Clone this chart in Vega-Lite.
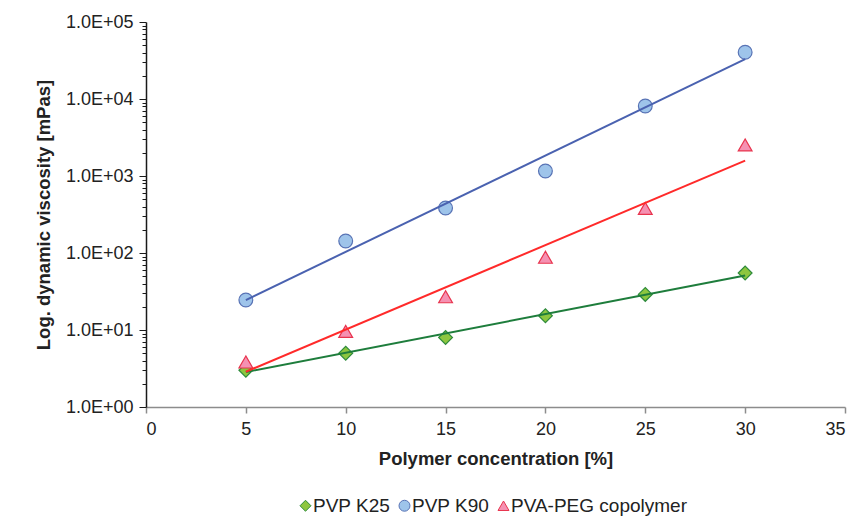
{
  "$schema": "https://vega.github.io/schema/vega-lite/v6.json",
  "width": 699,
  "height": 385,
  "autosize": "none",
  "padding": {"left": 146, "top": 22, "right": 19, "bottom": 117},
  "background": "white",
  "datasets": {
    "points": [
      {"series": "PVP K25", "conc": 5, "visc": 3.0},
      {"series": "PVP K25", "conc": 10, "visc": 5.0},
      {"series": "PVP K25", "conc": 15, "visc": 8.0},
      {"series": "PVP K25", "conc": 20, "visc": 15.3},
      {"series": "PVP K25", "conc": 25, "visc": 29},
      {"series": "PVP K25", "conc": 30, "visc": 55},
      {"series": "PVP K90", "conc": 5, "visc": 24.5},
      {"series": "PVP K90", "conc": 10, "visc": 143},
      {"series": "PVP K90", "conc": 15, "visc": 384},
      {"series": "PVP K90", "conc": 20, "visc": 1160},
      {"series": "PVP K90", "conc": 25, "visc": 8100},
      {"series": "PVP K90", "conc": 30, "visc": 40400},
      {"series": "PVA-PEG copolymer", "conc": 5, "visc": 3.84},
      {"series": "PVA-PEG copolymer", "conc": 10, "visc": 9.6},
      {"series": "PVA-PEG copolymer", "conc": 15, "visc": 27},
      {"series": "PVA-PEG copolymer", "conc": 20, "visc": 88},
      {"series": "PVA-PEG copolymer", "conc": 25, "visc": 380},
      {"series": "PVA-PEG copolymer", "conc": 30, "visc": 2530}
    ],
    "trend": [
      {"series": "PVP K25", "conc": 5, "visc": 2.85},
      {"series": "PVP K25", "conc": 30, "visc": 51},
      {"series": "PVP K90", "conc": 5, "visc": 24.5},
      {"series": "PVP K90", "conc": 30, "visc": 33000},
      {"series": "PVA-PEG copolymer", "conc": 5, "visc": 2.87},
      {"series": "PVA-PEG copolymer", "conc": 30, "visc": 1580}
    ]
  },
  "encoding": {
    "x": {
      "field": "conc",
      "type": "quantitative",
      "scale": {"domain": [0, 35], "nice": false, "zero": false},
      "axis": {
        "title": "Polymer concentration [%]",
        "values": [0, 5, 10, 15, 20, 25, 30, 35],
        "format": "d",
        "labelFontSize": 18,
        "labelPadding": 7,
        "tickSize": 6,
        "tickColor": "#8c8c8c",
        "domainColor": "#8c8c8c",
        "domainWidth": 1.5,
        "tickWidth": 1.5,
        "titleFontSize": 18.5,
        "titleFontWeight": "bold",
        "titlePadding": 11
      }
    },
    "y": {
      "field": "visc",
      "type": "quantitative",
      "scale": {"type": "log", "domain": [1, 100000], "nice": false},
      "axis": {
        "title": "Log. dynamic viscosity [mPas]",
        "values": [1, 2, 3, 4, 5, 6, 7, 8, 9, 10, 20, 30, 40, 50, 60, 70, 80, 90, 100, 200, 300, 400, 500, 600, 700, 800, 900, 1000, 2000, 3000, 4000, 5000, 6000, 7000, 8000, 9000, 10000, 20000, 30000, 40000, 50000, 60000, 70000, 80000, 90000, 100000],
        "labelExpr": "indexof([1, 10, 100, 1000, 10000, 100000], datum.value) >= 0 ? '1.0E+0' + round(log(datum.value) / LN10) : ''",
        "tickSize": {"condition": {"test": "indexof([1, 10, 100, 1000, 10000, 100000], datum.value) >= 0", "value": 7}, "value": 4},
        "labelFontSize": 18,
        "labelPadding": 6,
        "tickColor": "#1a1a1a",
        "domainColor": "#1a1a1a",
        "domainWidth": 1.5,
        "tickWidth": 1,
        "titleFontSize": 18.5,
        "titleFontWeight": "bold",
        "titlePadding": 12
      }
    }
  },
  "layer": [
    {
      "data": {"name": "points"},
      "mark": {"type": "point", "filled": true, "size": 190, "strokeWidth": 1.2, "opacity": 1},
      "encoding": {
        "shape": {"field": "series", "type": "nominal", "scale": {"domain": ["PVP K25", "PVP K90", "PVA-PEG copolymer"], "range": ["diamond", "circle", "triangle-up"]}, "legend": {"title": null}},
        "fill": {"field": "series", "type": "nominal", "scale": {"domain": ["PVP K25", "PVP K90", "PVA-PEG copolymer"], "range": ["#8dc63f", "#9ec4ea", "#f591b2"]}, "legend": {"title": null}},
        "stroke": {"field": "series", "type": "nominal", "scale": {"domain": ["PVP K25", "PVP K90", "PVA-PEG copolymer"], "range": ["#2e8b3c", "#5873b5", "#e8344e"]}, "legend": {"title": null}}
      }
    },
    {
      "data": {"name": "trend"},
      "mark": {"type": "line", "strokeWidth": 2},
      "encoding": {
        "color": {"field": "series", "type": "nominal", "scale": {"domain": ["PVP K25", "PVP K90", "PVA-PEG copolymer"], "range": ["#1e7d3c", "#4a62b0", "#ff2a2a"]}, "legend": null}
      }
    }
  ],
  "config": {
    "view": {"stroke": null},
    "font": "Liberation Sans",
    "axis": {"grid": false, "labelColor": "#222222", "titleColor": "#222222", "labelFont": "Liberation Sans", "titleFont": "Liberation Sans"},
    "legend": {
      "orient": "none",
      "legendX": 150,
      "legendY": 474,
      "direction": "horizontal",
      "labelFontSize": 19,
      "labelLimit": 400,
      "labelColor": "#222222",
      "labelFont": "Liberation Sans",
      "symbolSize": 120,
      "symbolStrokeWidth": 1,
      "labelOffset": -2,
      "columnPadding": 4
    }
  }
}
